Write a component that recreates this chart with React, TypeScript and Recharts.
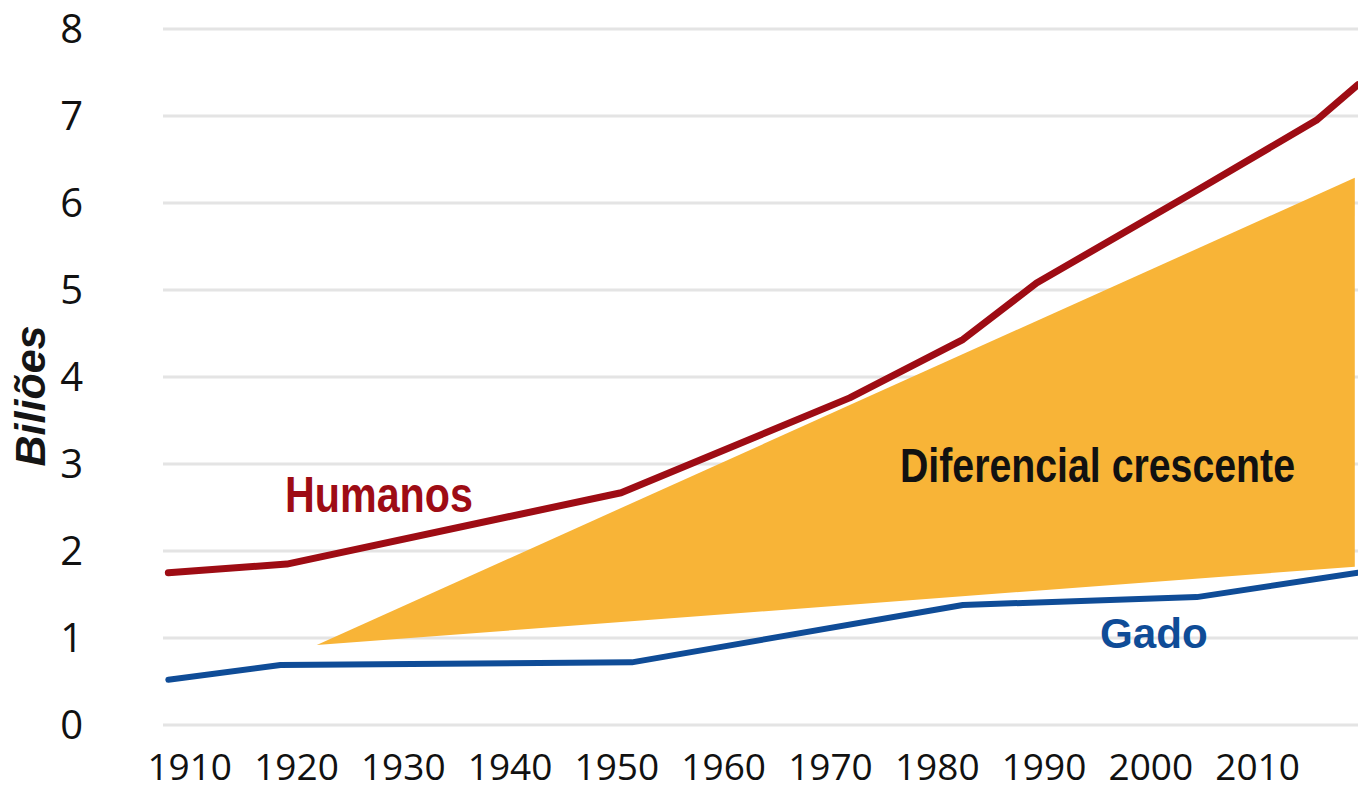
import React from 'react';
import { ComposedChart, Line, Area, XAxis, YAxis, CartesianGrid } from 'recharts';

// Humanos (bilhões)
const humanYears = [1908, 1919.1, 1950.4, 1971.8, 1982.4, 1989.3, 2004.1, 2015.5, 2019.4];
const humanValues = [1.75, 1.85, 2.67, 3.76, 4.43, 5.08, 6.13, 6.95, 7.36];

// Gado (bilhões)
const cattleYears = [1908, 1918.5, 1951.4, 1982.4, 2004.3, 2019.4];
const cattleValues = [0.52, 0.69, 0.72, 1.38, 1.47, 1.75];

// Faixa "Diferencial crescente"
const gapYears = [1921.9, 2019.1];
const gapLow = [0.92, 1.82];
const gapHigh = [0.92, 6.29];

const yearTicks = [1910, 1920, 1930, 1940, 1950, 1960, 1970, 1980, 1990, 2000, 2010];
const valueTicks = [0, 1, 2, 3, 4, 5, 6, 7, 8];

const humanData = humanYears.map((year, i) => ({ year, value: humanValues[i] }));
const cattleData = cattleYears.map((year, i) => ({ year, value: cattleValues[i] }));
const gapData = gapYears.map((year, i) => ({ year, range: [gapLow[i], gapHigh[i]] }));

const tickFont = '"Open Sans", "DejaVu Sans", sans-serif';
const labelFont = '"Liberation Sans", Arial, sans-serif';

const XTick = (props: any) => {
  const { x, y, payload } = props;
  return (
    <text x={x} y={y + 47} textAnchor="middle" fontFamily={tickFont} fontSize={37} fill="#111">
      {payload.value}
    </text>
  );
};

const YTick = (props: any) => {
  const { x, y, payload } = props;
  return (
    <text x={x - 72} y={y} dy={14} textAnchor="end" fontFamily={tickFont} fontSize={40} fill="#111">
      {payload.value}
    </text>
  );
};

// texto em negrito "condensado" (escala horizontal)
const Condensed = ({ x, y, sx, size, color, children }: any) => (
  <g transform={`translate(${x} ${y}) scale(${sx} 1)`}>
    <text x={0} y={0} fontFamily={labelFont} fontWeight="bold" fontSize={size} fill={color}>
      {children}
    </text>
  </g>
);

export default function App() {
  return (
    <div style={{ position: 'absolute', left: 0, top: 0, width: 1358, height: 790, background: '#fff' }}>
      <ComposedChart width={1358} height={790} margin={{ top: 29, right: 0, bottom: 0, left: 0 }}>
        <CartesianGrid vertical={false} stroke="#e4e4e4" strokeWidth={3} />
        <XAxis
          dataKey="year"
          type="number"
          domain={[1907.5, 2019.4]}
          ticks={yearTicks}
          allowDataOverflow
          axisLine={false}
          tickLine={false}
          height={65}
          interval={0}
          tick={<XTick />}
        />
        <YAxis
          type="number"
          domain={[0, 8]}
          ticks={valueTicks}
          axisLine={false}
          tickLine={false}
          width={163}
          interval={0}
          tick={<YTick />}
        />
        <Area
          data={gapData}
          dataKey="range"
          type="linear"
          fill="#f8b437"
          fillOpacity={1}
          stroke="none"
          isAnimationActive={false}
        />
        <Line
          data={cattleData}
          dataKey="value"
          type="linear"
          stroke="#0f4c97"
          strokeWidth={6}
          strokeLinejoin="round"
          strokeLinecap="round"
          dot={false}
          isAnimationActive={false}
        />
        <Line
          data={humanData}
          dataKey="value"
          type="linear"
          stroke="#9e0c14"
          strokeWidth={7}
          strokeLinejoin="round"
          strokeLinecap="round"
          dot={false}
          isAnimationActive={false}
        />
      </ComposedChart>
      <svg width={1358} height={790} style={{ position: 'absolute', left: 0, top: 0, pointerEvents: 'none' }}>
        <text
          x={45}
          y={396}
          transform="rotate(-90 45 396)"
          textAnchor="middle"
          fontFamily={labelFont}
          fontWeight="bold"
          fontStyle="italic"
          fontSize={43}
          fill="#151515"
        >
          Biliões
        </text>
        <Condensed x={285} y={512} sx={0.825} size={50} color="#9e0c14">Humanos</Condensed>
        <Condensed x={900} y={482} sx={0.818} size={48} color="#111">Diferencial crescente</Condensed>
        <Condensed x={1100} y={648} sx={0.98} size={43} color="#0f4c97">Gado</Condensed>
      </svg>
    </div>
  );
}
